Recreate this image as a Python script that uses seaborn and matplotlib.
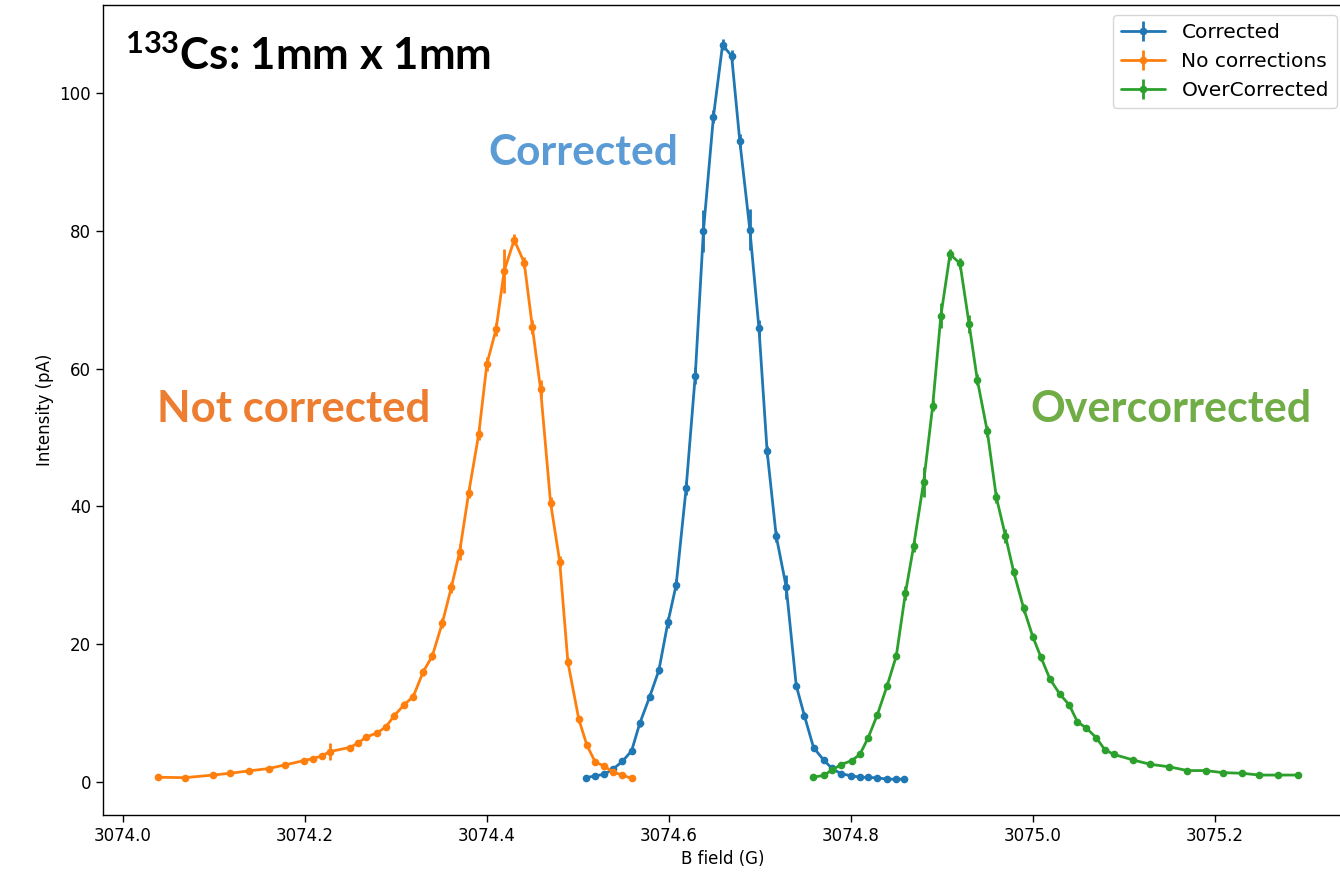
import matplotlib
matplotlib.use("Agg")
import matplotlib.pyplot as plt
import seaborn as sns
from matplotlib.legend_handler import HandlerTuple

# ===============================
# Donnees (B en G, intensite en pA)
# ===============================
b_corrected = [3074.509, 3074.519, 3074.529, 3074.539, 3074.549, 3074.559, 3074.568,
               3074.579, 3074.589, 3074.599, 3074.608, 3074.619, 3074.629, 3074.638,
               3074.649, 3074.659, 3074.669, 3074.678, 3074.689, 3074.699, 3074.708,
               3074.718, 3074.729, 3074.740, 3074.749, 3074.759, 3074.770, 3074.779,
               3074.789, 3074.800, 3074.810, 3074.819, 3074.829, 3074.840, 3074.850,
               3074.859]
i_corrected = [0.6, 0.9, 1.1, 1.9, 3.0, 4.5, 8.5,
               12.4, 16.2, 23.2, 28.6, 42.7, 59.0, 80.0,
               96.6, 107.0, 105.4, 93.0, 80.2, 65.9, 48.0,
               35.7, 28.3, 14.0, 9.6, 5.0, 3.2, 2.0,
               1.2, 0.9, 0.7, 0.65, 0.6, 0.4, 0.4,
               0.4]
err_corrected = [0.2, 0.2, 0.2, 0.3, 0.3, 0.3, 0.5,
                 0.5, 0.6, 0.8, 0.8, 1.0, 1.2, 3.0,
                 1.0, 0.8, 0.8, 1.0, 3.0, 1.2, 0.8,
                 0.8, 1.8, 0.5, 0.5, 0.3, 0.3, 0.2,
                 0.2, 0.2, 0.2, 0.2, 0.2, 0.2, 0.2,
                 0.2]

b_nocorr = [3074.038, 3074.068, 3074.099, 3074.118, 3074.138, 3074.160, 3074.178,
            3074.199, 3074.209, 3074.219, 3074.227, 3074.249, 3074.258, 3074.267,
            3074.279, 3074.289, 3074.298, 3074.309, 3074.319, 3074.330, 3074.340,
            3074.351, 3074.361, 3074.370, 3074.380, 3074.391, 3074.400, 3074.410,
            3074.419, 3074.430, 3074.441, 3074.450, 3074.459, 3074.470, 3074.480,
            3074.489, 3074.501, 3074.510, 3074.519, 3074.529, 3074.539, 3074.549,
            3074.559]
i_nocorr = [0.68, 0.62, 1.0, 1.26, 1.6, 1.94, 2.47,
            3.1, 3.4, 3.8, 4.4, 5.0, 5.6, 6.5,
            7.1, 8.0, 9.6, 11.2, 12.4, 16.0, 18.3,
            23.1, 28.3, 33.4, 42.0, 50.5, 60.7, 65.7,
            74.2, 78.7, 75.4, 66.0, 57.0, 40.5, 32.0,
            17.4, 9.1, 5.3, 2.9, 2.3, 1.4, 1.0,
            0.5]
err_nocorr = [0.2, 0.2, 0.2, 0.2, 0.2, 0.2, 0.2,
              0.3, 0.3, 0.3, 1.2, 0.3, 0.3, 0.4,
              0.4, 0.4, 0.5, 0.5, 0.5, 0.6, 0.6,
              0.7, 0.8, 1.2, 0.8, 0.8, 1.0, 1.0,
              3.2, 0.8, 0.8, 1.0, 1.3, 0.8, 0.8,
              0.6, 0.5, 0.3, 0.2, 0.2, 0.2, 0.2,
              0.2]

b_over = [3074.758, 3074.770, 3074.779, 3074.789, 3074.801, 3074.810, 3074.819,
          3074.829, 3074.840, 3074.850, 3074.860, 3074.869, 3074.880, 3074.890,
          3074.899, 3074.909, 3074.920, 3074.930, 3074.939, 3074.950, 3074.960,
          3074.970, 3074.979, 3074.990, 3075.000, 3075.009, 3075.019, 3075.030,
          3075.040, 3075.049, 3075.059, 3075.070, 3075.079, 3075.089, 3075.110,
          3075.129, 3075.150, 3075.170, 3075.190, 3075.209, 3075.230, 3075.249,
          3075.270, 3075.291]
i_over = [0.68, 0.94, 1.7, 2.5, 3.1, 4.0, 6.4,
          9.7, 14.0, 18.3, 27.4, 34.2, 43.5, 54.6,
          67.7, 76.6, 75.3, 66.5, 58.4, 50.9, 41.3,
          35.7, 30.5, 25.2, 21.1, 18.1, 14.9, 12.7,
          11.2, 8.75, 7.8, 6.4, 4.7, 4.0, 3.2,
          2.56, 2.2, 1.65, 1.65, 1.35, 1.26, 1.0,
          1.0, 1.0]
err_over = [0.2, 0.2, 0.2, 0.2, 0.2, 0.3, 0.3,
            0.4, 0.5, 0.5, 1.0, 0.8, 2.2, 0.8,
            1.8, 0.8, 0.8, 1.3, 0.8, 0.8, 0.8,
            1.0, 0.6, 0.6, 0.5, 0.5, 0.4, 0.4,
            0.4, 0.3, 0.3, 0.3, 0.3, 0.2, 0.2,
            0.2, 0.2, 0.2, 0.2, 0.2, 0.2, 0.2,
            0.2, 0.2]

series_labels = ["Corrected", "No corrections", "OverCorrected"]
series_colors = ["#1f77b4", "#ff7f0e", "#2ca02c"]

# ===============================
# Style
# ===============================
sns.set_theme(style="ticks", rc={"axes.edgecolor": "black", "xtick.color": "black",
                                 "ytick.color": "black", "axes.linewidth": 1.0,
                                 "text.color": "black", "axes.labelcolor": "black"})
plt.rcParams["font.family"] = ["DejaVu Sans"]
plt.rcParams["mathtext.fontset"] = "custom"
plt.rcParams["mathtext.bf"] = "Lato:bold"
plt.rcParams["mathtext.rm"] = "Lato:bold"
plt.rcParams["mathtext.default"] = "bf"

fig = plt.figure(figsize=(13.4, 8.85), dpi=100)
ax = fig.add_axes([103 / 1340, 1 - 815 / 885, (1343 - 103) / 1340, 810 / 885])

# ===============================
# Courbes + barres d'erreur
# ===============================
data = [(b_corrected, i_corrected, err_corrected),
        (b_nocorr, i_nocorr, err_nocorr),
        (b_over, i_over, err_over)]

handles = []
for (bx, iy, err), lab, col in zip(data, series_labels, series_colors):
    sns.lineplot(x=bx, y=iy, ax=ax, color=col, marker="o", markersize=5.5,
                 markeredgewidth=0, linewidth=2, sort=False, estimator=None)
    line = ax.lines[-1]
    eb = ax.errorbar(bx, iy, yerr=err, fmt="none", ecolor=col, elinewidth=2)
    handles.append((line, eb))

ax.set_xlim(3073.978, 3075.341)
ax.set_ylim(-4.8, 112.8)
ax.set_xticks([3074.0, 3074.2, 3074.4, 3074.6, 3074.8, 3075.0, 3075.2])
ax.set_yticks([0, 20, 40, 60, 80, 100])
ax.tick_params(labelsize=12, length=5, width=1)
ax.set_xlabel("B field (G)", fontsize=12)
ax.set_ylabel("Intensity (pA)", fontsize=12)

ax.legend(handles, series_labels, handler_map={tuple: HandlerTuple(ndivide=1)},
          loc="upper right", bbox_to_anchor=(1337 / 1340, 1 - 15 / 885),
          bbox_transform=fig.transFigure, borderaxespad=0, fontsize=14.5,
          frameon=True, handlelength=2.2)

# ===============================
# Annotations (ajoutees par dessus)
# ===============================
ann_font = "Lato"
fig.text(125 / 1340, 1 - 56 / 885, r"$^{133}$Cs: 1mm x 1mm", fontsize=31.5,
         fontweight="bold", family=ann_font, color="black", ha="left", va="center")
fig.text(488 / 1340, 1 - 153 / 885, "Corrected", fontsize=30.5, fontweight="bold",
         family=ann_font, color="#5B9BD5", ha="left", va="center")
fig.text(157 / 1340, 1 - 409 / 885, "Not corrected", fontsize=31.5, fontweight="bold",
         family=ann_font, color="#ED7D31", ha="left", va="center")
fig.text(1030 / 1340, 1 - 409 / 885, "Overcorrected", fontsize=31, fontweight="bold",
         family=ann_font, color="#70AD47", ha="left", va="center")

fig.savefig("out.png", dpi=100)
